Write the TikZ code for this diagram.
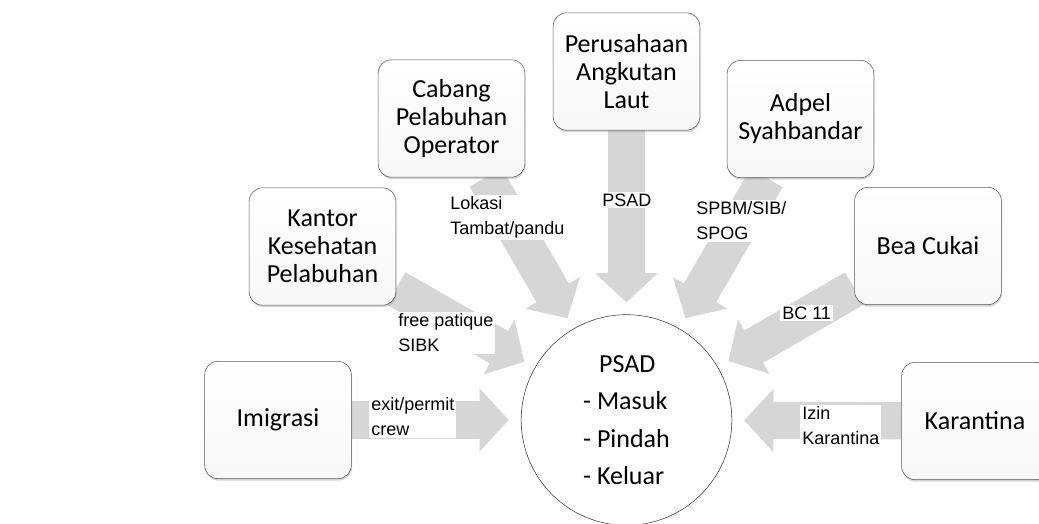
\documentclass[tikz,border=0pt]{standalone}
\usepackage{fontspec}
\setmainfont{Carlito}
\newfontfamily\arialfont{Liberation Sans}
\usetikzlibrary{arrows.meta,shadows,backgrounds}

\begin{document}
\begin{tikzpicture}[x=0.75pt,y=-0.75pt,
    agency/.style={draw=gray!70!black, rounded corners=10pt, top color=white, bottom color=gray!6,
        minimum width=110pt, minimum height=88pt, align=center, font=\fontsize{19.5}{21}\selectfont,
        drop shadow={opacity=0.35, shadow xshift=0.5pt, shadow yshift=-1.5pt}},
    doc/.style={fill=white, inner sep=1.5pt, align=left, font=\arialfont\fontsize{13.5}{18.75}\selectfont},
    blk/.style={line width=28pt, draw=black!16, shorten >=9pt, -{Triangle[length=22pt, width=46pt]}}]
    \useasboundingbox (0,0) rectangle (1039,524);

    % agencies round the centre
    \node[agency] (cab) at (451.5,118.5) {Cabang\\Pelabuhan\\Operator};
    \node[agency] (ptk) at (626.5,71.5) {Perusahaan\\Angkutan\\Laut};
    \node[agency] (adp) at (800.5,119) {Adpel\\Syahbandar};
    \node[agency] (kkp) at (322.5,246.5) {Kantor\\Kesehatan\\Pelabuhan};
    \node[agency] (bea) at (928,246) {Bea Cukai};
    \node[agency] (imi) at (278,420) {Imigrasi};
    \node[agency] (kar) at (975,421) {Karantina};

    \node[draw=gray!40!black, circle, fill=white, minimum size=158pt, align=left,
        font=\fontsize{19.5}{21}\selectfont] (hub) at (626.5,420)
        {\hspace{12pt}PSAD\\[7pt]- Masuk\\[7pt]- Pindah\\[7pt]- Keluar};

    \begin{scope}[on background layer]
        \foreach \src in {imi,kkp,cab,ptk,adp,bea,kar}
            \draw[blk] (\src) -- (hub);
    \end{scope}

    % documents on the arrows
    \node[doc, anchor=west] (lok) at (448,217.5) {Lokasi\\Tambat/pandu};
    \node[doc, anchor=west] (psl) at (600,200) {PSAD};
    \node[doc, anchor=west] (spb) at (694,221) {SPBM/SIB/\\SPOG};
    \node[doc, anchor=west] (bcl) at (780,313) {BC 11};
    \node[doc, anchor=west] (izn) at (800,426) {Izin\\Karantina};
    \node[doc, anchor=west] (frp) at (396,333) {free patique\\SIBK};
    \node[doc, anchor=west] (exi) at (369,417) {exit/permit\\crew};
\end{tikzpicture}
\end{document}
